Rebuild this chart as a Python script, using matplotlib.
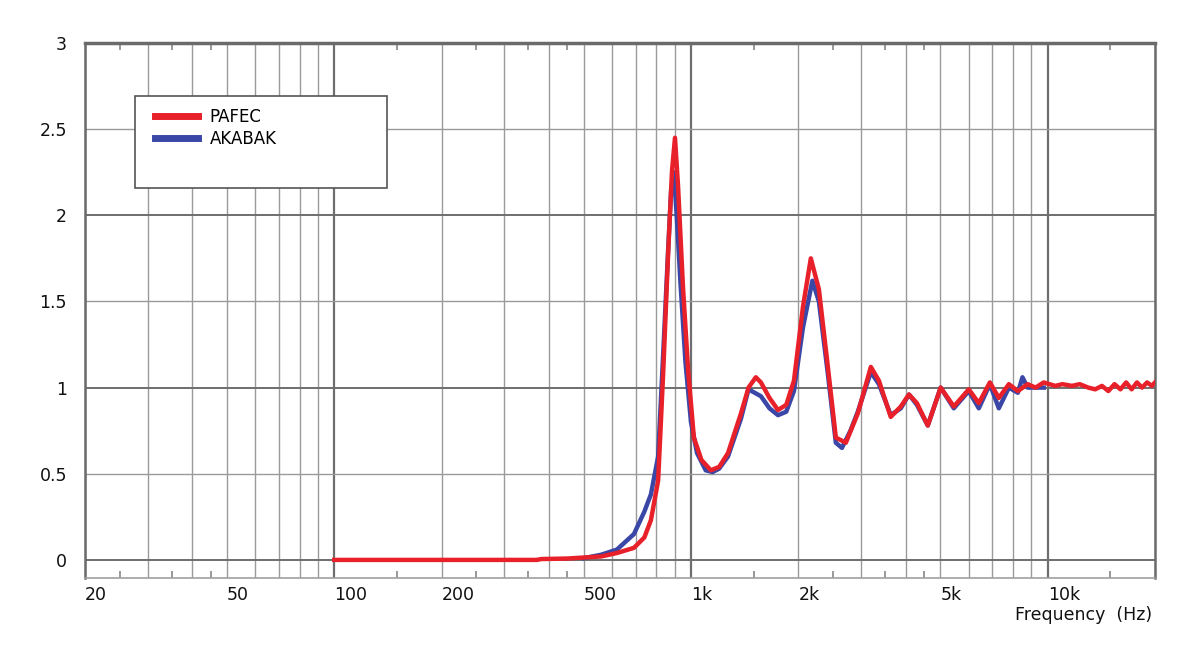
import numpy as np
import matplotlib
matplotlib.use("Agg")
import matplotlib.pyplot as plt
from matplotlib.patches import Rectangle

# ---- data ----
pafec_freq = [100, 370, 380, 450, 560, 620, 692, 740, 772, 809, 836, 863, 885, 902,
              920, 950, 982, 1019, 1070, 1137, 1200, 1270, 1381, 1450, 1520, 1571, 1660,
              1754, 1850, 1944, 2061, 2168, 2284, 2420, 2548, 2718, 2936, 3194, 3365,
              3632, 3875, 4085, 4300, 4613, 5013, 5457, 6010, 6412, 6888, 7296, 7787,
              8250, 8790, 9250, 9750, 10500, 11000, 11700, 12300, 13000, 13600, 14200,
              14800, 15400, 16000, 16600, 17200, 17800, 18400, 19000, 19600, 20000]
pafec_val = [0.0, 0.0, 0.005, 0.008, 0.02, 0.04, 0.07, 0.13, 0.23, 0.46, 1.09, 1.78, 2.26, 2.45,
             2.17, 1.58, 1.10, 0.71, 0.58, 0.52, 0.54, 0.62, 0.85, 1.0, 1.06, 1.03, 0.94,
             0.87, 0.90, 1.04, 1.47, 1.75, 1.57, 1.12, 0.71, 0.68, 0.85, 1.12, 1.04,
             0.83, 0.89, 0.96, 0.91, 0.78, 1.0, 0.89, 0.99, 0.91, 1.03, 0.94, 1.02,
             0.98, 1.02, 1.0, 1.03, 1.01, 1.02, 1.01, 1.02, 1.0, 0.99, 1.01,
             0.98, 1.02, 0.99, 1.03, 0.99, 1.03, 1.0, 1.03, 1.01, 1.03]

akabak_freq = [500, 560, 620, 692, 740, 772, 809, 836, 863, 880, 895, 912, 935, 965,
               1000, 1040, 1100, 1150, 1200, 1270, 1381, 1450, 1571, 1660, 1754, 1850,
               1944, 2061, 2190, 2284, 2420, 2548, 2650, 2800, 2936, 3194, 3365, 3632,
               3875, 4085, 4300, 4613, 5013, 5457, 6010, 6412, 6888, 7296, 7787, 8250,
               8500, 8790, 9250, 9750]
akabak_val = [0.01, 0.03, 0.06, 0.15, 0.28, 0.38, 0.6, 1.2, 1.8, 2.15, 2.25, 2.0, 1.6, 1.15,
              0.8, 0.62, 0.52, 0.51, 0.53, 0.6, 0.82, 0.99, 0.95, 0.88, 0.84, 0.86,
              0.98, 1.35, 1.62, 1.5, 1.08, 0.68, 0.65, 0.75, 0.86, 1.09, 1.02, 0.84,
              0.88, 0.96, 0.9, 0.78, 1.0, 0.88, 0.98, 0.88, 1.02, 0.88, 1.0, 0.97,
              1.06, 1.0, 1.0, 1.0]

xtick_vals = [20, 50, 100, 200, 500, 1000, 2000, 5000, 10000]
xtick_labels = ["20", "50", "100", "200", "500", "1k", "2k", "5k", "10k"]
ytick_vals = [0, 0.5, 1, 1.5, 2, 2.5, 3]
ytick_labels = ["0", "0.5", "1", "1.5", "2", "2.5", "3"]

RED = "#e8202a"
BLUE = "#3b47a6"

W, H = 1199, 652
fig = plt.figure(figsize=(W / 100, H / 100), dpi=100)
ax = fig.add_axes([85 / W, 1 - 578 / H, (1155 - 85) / W, (578 - 43) / H])
ax.set_xscale("log")
ax.set_xlim(20, 20000)
ax.set_ylim(-0.105, 3)

# grid
for dec in [10, 100, 1000, 10000]:
    for m in range(1, 10):
        f = dec * m
        if f < 20 or f > 20000:
            continue
        major = (m == 1)
        ax.axvline(f, color="#6e6e6e" if major else "#9a9a9a",
                   lw=1.6 if major else 1.0, zorder=1)
for y in ytick_vals:
    integer = float(y).is_integer()
    ax.axhline(y, color="#6e6e6e" if integer else "#9a9a9a",
               lw=1.4 if integer else 1.0, zorder=1)

ax.plot(akabak_freq, akabak_val, color=BLUE, lw=3.2, zorder=3, label="AKABAK")
ax.plot(pafec_freq, pafec_val, color=RED, lw=3.2, zorder=4, label="PAFEC")

# ticks
ax.set_xticks(xtick_vals)
ax.set_xticklabels(xtick_labels, ha="left")
half_ticks = [d * h for d in [10, 100, 1000, 10000] for h in [2.5, 3.5, 4.5, 1.5]
              if 20 <= d * h <= 20000]
ax.set_xticks(half_ticks, minor=True)
ax.xaxis.set_minor_formatter(matplotlib.ticker.NullFormatter())
ax.tick_params(axis="x", which="major", length=0, pad=6, labelsize=12.5, colors="#111111")
ax.tick_params(axis="x", which="minor", length=5, width=1.2, direction="in",
               top=True, bottom=True, color="#888888")
ax.set_yticks(ytick_vals)
ax.set_yticklabels(ytick_labels)
ax.tick_params(axis="y", which="major", length=0, pad=13, labelsize=12.5, colors="#111111")
ax.yaxis.set_minor_locator(matplotlib.ticker.NullLocator())

for side in ["top", "left", "right"]:
    ax.spines[side].set_color("#6a6a6a")
    ax.spines[side].set_linewidth(1.8)
ax.spines["top"].set_linewidth(2.5)
ax.spines["bottom"].set_color("#a0a0a0")
ax.spines["bottom"].set_linewidth(1.2)

fig.text(1152 / W, 1 - 615 / H, "Frequency  (Hz)", ha="right", va="center",
         fontsize=12.5, color="#111111")

# legend box
box = Rectangle((135 / W, 1 - 188 / H), (387 - 135) / W, (188 - 96) / H,
                transform=fig.transFigure, facecolor="white", edgecolor="#555555",
                lw=1.2, zorder=5)
fig.patches.append(box)
handles, labels = ax.get_legend_handles_labels()
leg = fig.legend(handles[::-1], labels[::-1], loc="upper left",
                 bbox_to_anchor=(143 / W, 1 - 96 / H), frameon=False,
                 fontsize=12, handlelength=2.6, handletextpad=0.7,
                 labelspacing=0.25, borderpad=0.2)
for ln in leg.get_lines():
    ln.set_linewidth(5)
leg.set_zorder(6)

fig.savefig("out.png", dpi=100)
